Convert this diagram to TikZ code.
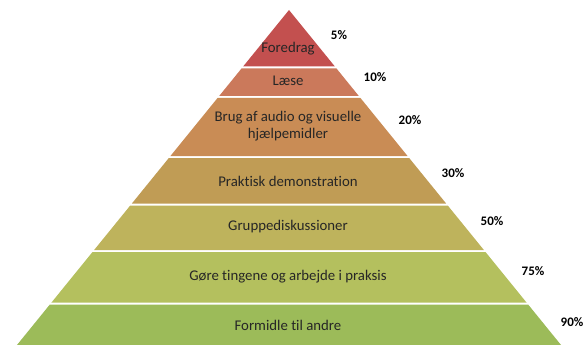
\documentclass[tikz,border=0pt]{standalone}
\usepackage{fontspec}
\setmainfont{Carlito}[Ligatures=NoCommon]
\definecolor{b1}{HTML}{C3504F}
\definecolor{b2}{HTML}{CB795B}
\definecolor{b3}{HTML}{C98C55}
\definecolor{b4}{HTML}{C09C55}
\definecolor{b5}{HTML}{BEB35C}
\definecolor{b6}{HTML}{B4C05E}
\definecolor{b7}{HTML}{9CBB59}
\definecolor{txt}{HTML}{262626}
\newcommand\pyrband[3]{%
  \fill[#3] ({289-0.812*(#1-10)},#1) -- ({289+0.812*(#1-10)},#1) -- ({289+0.812*(#2-10)},#2) -- ({289-0.812*(#2-10)},#2) -- cycle;}
\begin{document}
\begin{tikzpicture}[x=1pt,y=-1pt,
  lbl/.style={text=txt,font=\fontsize{14.8}{17}\selectfont,align=center,inner sep=0pt},
  pct/.style={text=black,font=\fontsize{13}{14}\bfseries\selectfont,inner sep=0pt}]
\useasboundingbox (0,0) rectangle (587,345);
\clip (0,0) rectangle (587,345);
\pyrband{10}{66.5}{b1}
\pyrband{68.5}{96}{b2}
\pyrband{98}{156}{b3}
\pyrband{158}{203.5}{b4}
\pyrband{205.5}{250}{b5}
\pyrband{252}{302.5}{b6}
\pyrband{304.5}{350}{b7}
\node[lbl] (l1) at (288,49) {Foredrag};
\node[lbl] (l2) at (288,81) {Læse};
\node[lbl] (l3) at (288,126) {Brug af audio og visuelle\\hjælpemidler};
\node[lbl] (l4) at (288,181) {Praktisk demonstration};
\node[lbl] (l5) at (288,227) {Gruppediskussioner};
\node[lbl] (l6) at (288,277) {Gøre tingene og arbejde i praksis};
\node[lbl] (l7) at (288,325) {Formidle til andre};
\node[pct] (p1) at (339,35) {5\%};
\node[pct] (p2) at (375,77) {10\%};
\node[pct] (p3) at (410,120) {20\%};
\node[pct] (p4) at (453,173) {30\%};
\node[pct] (p5) at (492,221) {50\%};
\node[pct] (p6) at (533,271) {75\%};
\node[pct] (p7) at (572,322) {90\%};
\end{tikzpicture}
\end{document}
